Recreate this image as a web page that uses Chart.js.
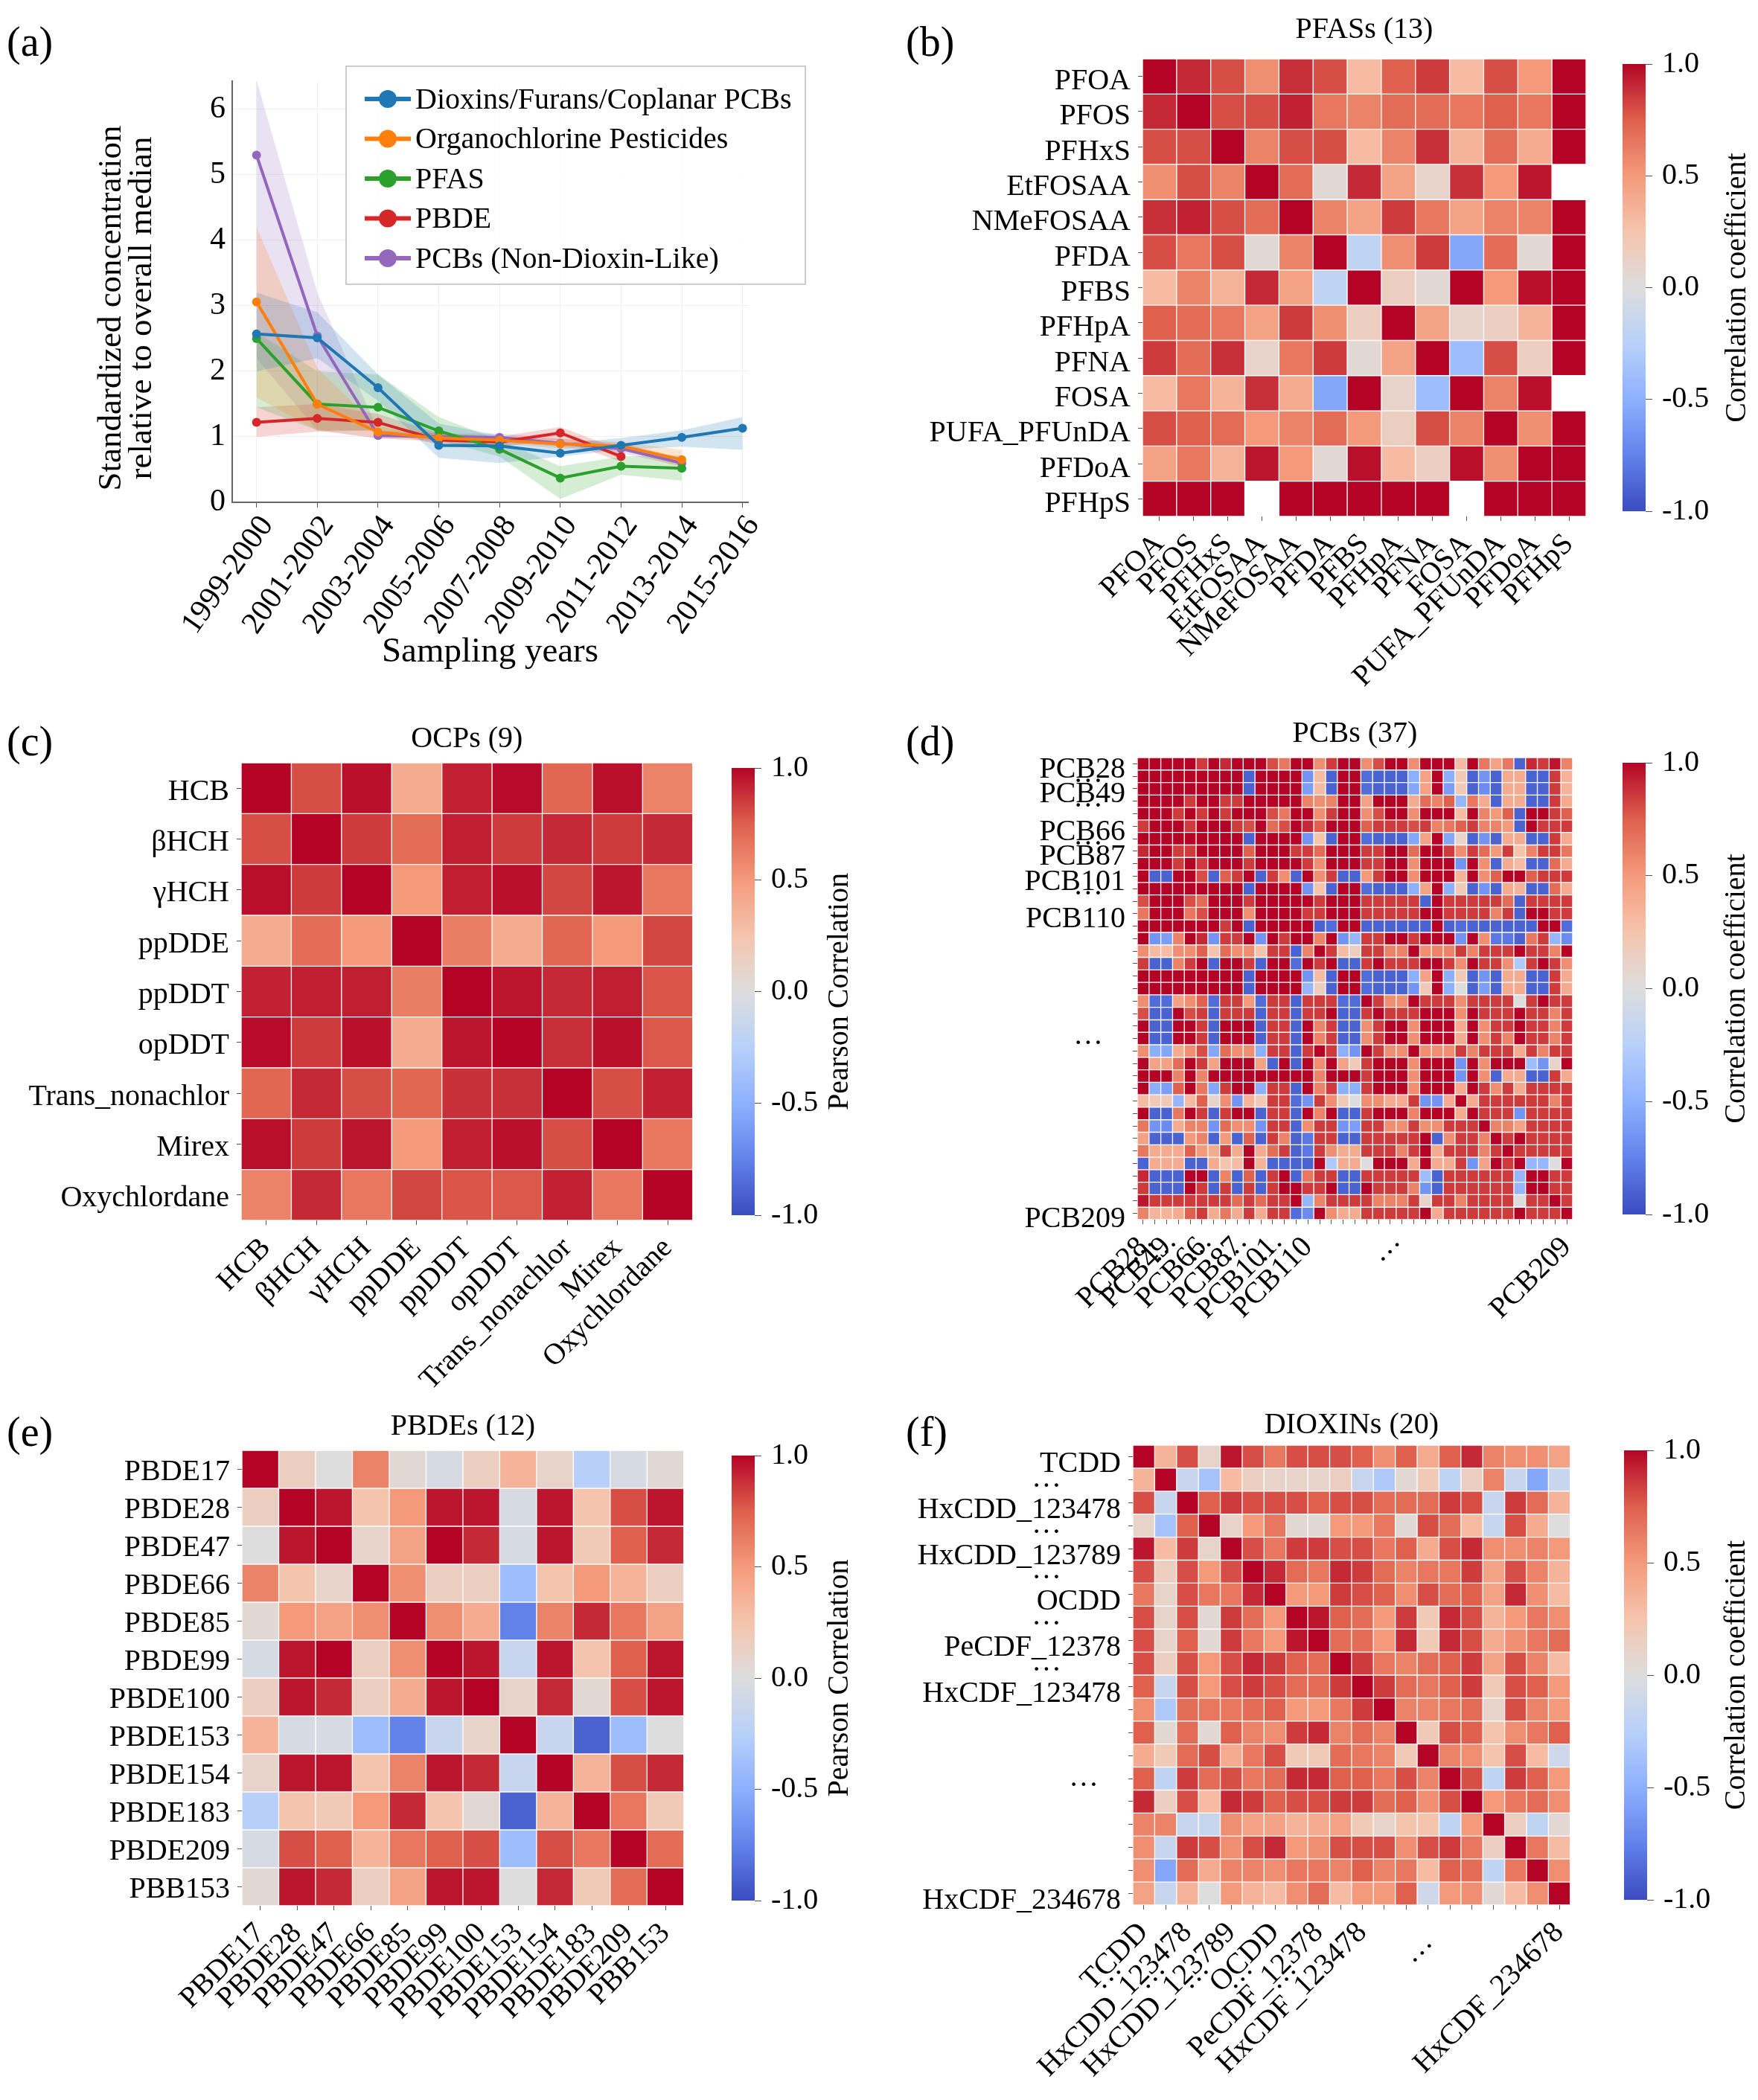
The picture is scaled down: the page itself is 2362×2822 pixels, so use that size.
<!DOCTYPE html>
<html><head><meta charset="utf-8">
<script src="https://cdn.jsdelivr.net/npm/chart.js@4.4.1/dist/chart.umd.min.js"></script>
<style>
html,body{margin:0;padding:0;background:#fff;}
body{width:2362px;height:2822px;position:relative;overflow:hidden;font-family:"Liberation Serif",serif;}
canvas{position:absolute;}
.plabel{position:absolute;font-size:56px;line-height:1;color:#000;font-family:"Liberation Serif",serif;}
</style></head><body>
<div class="plabel" style="left:9px;top:28px">(a)</div>
<div class="plabel" style="left:1217px;top:28px">(b)</div>
<div class="plabel" style="left:9px;top:968px">(c)</div>
<div class="plabel" style="left:1217px;top:968px">(d)</div>
<div class="plabel" style="left:9px;top:1896px">(e)</div>
<div class="plabel" style="left:1217px;top:1896px">(f)</div>
<canvas id="cA"></canvas>
<canvas id="cB"></canvas><canvas id="cbB"></canvas>
<canvas id="cC"></canvas><canvas id="cbC"></canvas>
<canvas id="cD"></canvas><canvas id="cbD"></canvas>
<canvas id="cE"></canvas><canvas id="cbE"></canvas>
<canvas id="cF"></canvas><canvas id="cbF"></canvas>
<script>
// ---------------- DATA ----------------
const yearLabels = ['1999-2000','2001-2002','2003-2004','2005-2006','2007-2008','2009-2010','2011-2012','2013-2014','2015-2016'];
const seriesNames = ['Dioxins/Furans/Coplanar PCBs','Organochlorine Pesticides','PFAS','PBDE','PCBs (Non-Dioxin-Like)'];
const seriesColors = ['#1f77b4','#ff7f0e','#2ca02c','#d62728','#9467bd'];
const yTitleLines = ['Standardized concentration','relative to overall median'];
const dioxinMedian = [2.57,2.51,1.75,0.87,0.86,0.75,0.87,0.99,1.13];
const dioxinLower  = [2.0,2.2,1.55,0.68,0.6,0.7,0.8,0.85,0.8];
const dioxinUpper  = [3.2,2.9,1.95,1.2,1.02,0.9,0.98,1.1,1.3];
const ocpMedian = [3.06,1.5,1.07,0.98,0.95,0.89,0.86,0.65,null];
const ocpLower  = [1.6,1.1,0.98,0.92,0.9,0.82,0.8,0.53,null];
const ocpUpper  = [4.2,2.05,1.15,1.05,1.0,0.97,0.92,0.8,null];
const pfasMedian = [2.5,1.5,1.45,1.09,0.81,0.37,0.55,0.52,null];
const pfasLower  = [1.45,1.1,1.1,0.95,0.7,0.05,0.42,0.33,null];
const pfasUpper  = [2.6,2.0,1.95,1.3,0.95,0.55,0.7,0.72,null];
const pbdeMedian = [1.22,1.28,1.22,0.95,0.92,1.06,0.7,null,null];
const pbdeLower  = [1.0,1.08,1.1,0.88,0.85,0.95,0.62,null,null];
const pbdeUpper  = [1.45,1.5,1.35,1.05,1.0,1.15,0.8,null,null];
const ndlPcbMedian = [5.3,2.54,1.02,1.0,0.99,0.9,0.82,0.6,null];
const ndlPcbLower  = [2.2,1.1,0.97,0.95,0.92,0.85,0.75,0.55,null];
const ndlPcbUpper  = [6.45,3.2,1.1,1.05,1.05,0.97,0.9,0.68,null];

const pfasLabels = ['PFOA','PFOS','PFHxS','EtFOSAA','NMeFOSAA','PFDA','PFBS','PFHpA','PFNA','FOSA','PUFA_PFUnDA','PFDoA','PFHpS'];
const pfasMatrix = [
[1,.9,.8,.55,.88,.8,.3,.75,.85,.3,.8,.5,1],
[.9,1,.8,.8,.92,.65,.6,.7,.7,.65,.75,.65,1],
[.8,.8,1,.6,.8,.8,.3,.6,.88,.35,.7,.4,1],
[.55,.8,.6,1,.7,.05,.9,.45,.1,.88,.5,.95,null],
[.88,.92,.8,.7,1,.6,.45,.85,.65,.45,.6,.6,1],
[.8,.65,.8,.05,.6,1,-.2,.55,.85,-.55,.7,.05,1],
[.3,.6,.35,.9,.45,-.2,1,.15,.05,1,.5,.97,1],
[.75,.7,.65,.45,.85,.55,.15,1,.45,.1,.15,.35,1],
[.85,.7,.88,.1,.65,.85,.05,.45,1,-.4,.8,.15,1],
[.3,.65,.35,.88,.4,-.55,1,.1,-.4,1,.6,.97,null],
[.8,.75,.7,.5,.6,.7,.5,.15,.8,.6,1,.55,1],
[.45,.65,.35,.95,.5,.05,.97,.3,.15,.97,.55,1,1],
[1,1,1,null,1,1,1,1,1,null,1,1,1]
];

const ocpLabels = ['HCB','βHCH','γHCH','ppDDE','ppDDT','opDDT','Trans_nonachlor','Mirex','Oxychlordane'];
const ocpMatrix = [
[1,.8,.97,.4,.92,.98,.72,.97,.6],
[.8,1,.85,.7,.93,.85,.9,.85,.9],
[.97,.85,1,.5,.93,.97,.82,.95,.65],
[.4,.7,.5,1,.62,.4,.72,.5,.82],
[.92,.93,.93,.62,1,.95,.9,.93,.78],
[.98,.85,.97,.4,.95,1,.88,.97,.77],
[.72,.9,.8,.72,.88,.88,1,.8,.92],
[.97,.85,.95,.5,.93,.97,.8,1,.65],
[.6,.9,.65,.82,.78,.77,.92,.65,1]
];

const pcbRowLabels = ['PCB28','···\u00a0\u00a0\u00a0','PCB49','···\u00a0\u00a0\u00a0','','PCB66','···\u00a0\u00a0\u00a0','PCB87','','PCB101','···\u00a0\u00a0\u00a0','','PCB110',
 '','','','','','','','','','···\u00a0\u00a0\u00a0','','','','','','','','','','','','','','PCB209'];
const pcbColLabels = ['PCB28','···','PCB49','···','','PCB66','···','','PCB87','···','','PCB101','···','','PCB110',
 '','','','','','','','···','','','','','','','','','','','','','','PCB209'];
// upper triangle of the PCB correlation matrix, row i holds columns i..36
const pcbUpper = [
[1,1,1,1,1,.85,1,.9,1,1,1,.8,.65,1,1,.55,.85,1,1,.55,.8,1,1,.55,1,1,1,.3,1,.65,.45,.65,-.9,.9,.85,.95,.6],
[1,1,1,1,1,1,1,1,-.9,1,1,1,1,-.65,.3,-.9,1,1,-.85,-.9,-.9,-.9,-.5,.45,1,-.5,.2,-.9,-.65,-.9,.4,.4,-.9,-.9,.85,.35],
[1,1,1,1,1,1,1,-.9,1,1,1,1,-.6,.3,-.9,1,1,-.85,-.9,-.9,-.9,-.55,.45,1,-.6,.2,-.9,-.7,-.9,.4,.4,-.9,-.9,.85,.35],
[1,.85,1,1,.85,.85,1,1,1,1,1,.6,.55,.6,1,1,.45,1,1,1,.4,.7,.6,.75,-.45,.65,.4,-.9,.4,.4,-.9,-.9,.85,.4],
[1,.85,1,.85,1,1,1,.8,.65,1,1,.55,.85,1,1,.55,.8,1,1,.55,1,1,1,.3,1,.6,.5,.75,-.9,1,1,.85,.75],
[1,1,1,.85,.8,1,.7,.8,1,.9,.75,1,1,1,.75,.85,.85,.85,.8,.85,.6,.65,.75,.85,.6,.6,.5,-.9,1,.85,.85,.85],
[1,1,1,-.9,1,1,1,1,-.65,.25,-.9,1,1,-.85,-.9,-.9,-.9,-.55,.45,1,-.55,.1,-.9,-.65,-.9,.4,.4,-.9,-.9,.85,.4],
[1,1,.75,1,1,1,.85,.85,.7,1,1,1,.85,.85,1,1,.7,1,1,.85,.55,.85,.7,.5,.85,.25,.6,.85,.85,.65],
[1,.85,1,1,1,1,.85,.55,1,1,1,.85,.85,1,1,.55,1,1,1,-.65,1,.55,-.9,.4,.3,-.9,-.9,.7,.4],
[1,-.9,.85,.55,-.9,1,.55,.85,-.9,-.9,.5,.85,1,1,.55,1,1,1,.35,1,.55,.75,1,1,.75,.85,.85,.85],
[1,1,1,1,-.65,.25,-.9,1,1,-.85,-.9,-.9,-.9,-.5,.45,1,-.5,.2,-.9,-.65,-.9,.4,.35,-.9,-.9,.7,.4],
[1,1,1,1,.85,1,1,1,.85,.85,.85,.85,.85,-.9,1,.85,.85,.85,.85,.85,.7,-.9,.85,.85,.85,.85],
[1,1,.85,.85,1,1,1,.85,.85,.85,.85,.85,1,1,.85,.85,.85,.85,.6,.85,-.9,1,1,.85,.85],
[1,1,-.9,-.85,1,1,-.9,-.9,-.9,-.9,-.9,-.9,1,-.9,-.85,-.9,-.9,-.9,-.9,-.9,-.9,1,1,-.85],
[1,.6,1,-.65,-.45,.85,.85,1,1,.85,1,1,1,-.65,1,.55,-.8,-.8,-.9,.65,.85,-.45,-.7],
[1,.85,.3,.15,.85,.85,.6,.6,1,.55,.6,.6,.85,.6,.85,.85,.85,1,.85,.85,.6,1],
[1,-.9,-.9,.85,1,.85,.85,.85,1,1,.85,.55,1,.85,.85,.55,-.3,.85,1,.85,.55],
[1,1,-.85,-.9,-.9,-.9,-.5,.45,1,-.5,.2,-.9,-.65,-.9,.4,.4,-.9,-.9,.85,.4],
[1,-.85,-.9,-.9,-.9,-.65,.2,1,-.5,0,-.9,-.6,-.9,.4,.4,-.9,-.9,.85,.4],
[1,.85,.55,.55,1,.85,.85,.85,.55,.85,.85,.85,.85,0,.85,1,.85,.85],
[1,.85,.85,.85,1,1,1,.55,1,.85,.85,.85,1,.85,.85,.6,.85],
[1,1,.55,1,1,1,.4,1,.55,.85,.85,1,.85,.85,.6,.85],
[1,.55,1,1,1,.4,1,.55,.85,.6,1,.85,.85,.6,.85],
[1,.55,.55,.55,.85,.6,.85,.85,.85,.4,.85,.6,.85,.85],
[1,1,1,-.65,1,.55,1,1,1,-.4,-.65,.1,1],
[1,1,-.65,1,.55,-.9,.4,.4,-.9,-.9,.85,.4],
[1,.4,1,.85,.55,.85,.4,.85,.85,.85,.85],
[1,.4,.85,.85,.85,.85,.85,.85,.6,.85],
[1,.85,.85,.85,-.65,.85,.85,.85,.85],
[1,.6,.6,.45,.85,.85,.85,.85],
[1,.85,1,.85,.85,.85,.85],
[1,.85,.85,.85,.85,.85],
[1,-.45,-.45,0,1],
[1,1,.85,.85],
[1,.85,.85],
[1,.85],
[1]
];

const pbdeLabels = ['PBDE17','PBDE28','PBDE47','PBDE66','PBDE85','PBDE99','PBDE100','PBDE153','PBDE154','PBDE183','PBDE209','PBB153'];
const pbdeMatrix = [
[1,.15,0,.6,.05,-.05,.15,.35,.1,-.25,-.05,.05],
[.15,1,.95,.25,.5,.95,.95,-.05,.95,.25,.8,.95],
[0,.95,1,.1,.45,1,.9,-.05,.95,.2,.75,.9],
[.6,.25,.1,1,.55,.15,.15,-.4,.25,.5,.35,.15],
[.05,.5,.45,.55,1,.55,.4,-.75,.6,.9,.65,.45],
[-.05,.95,1,.15,.55,1,.95,-.15,.95,.25,.75,.95],
[.15,.95,.9,.15,.4,.95,1,.1,.9,.05,.8,.95],
[.35,-.05,-.05,-.4,-.75,-.15,.1,1,-.15,-.9,-.4,0],
[.1,.95,.95,.25,.6,.95,.9,-.15,1,.35,.8,.9],
[-.25,.25,.2,.5,.9,.25,.05,-.9,.35,1,.65,.2],
[-.05,.8,.75,.35,.65,.75,.8,-.4,.8,.65,1,.7],
[.05,.95,.9,.15,.45,.95,.95,0,.9,.2,.7,1]
];

const dioxinLabels = ['TCDD','···\u00a0\u00a0\u00a0\u00a0\u00a0\u00a0\u00a0\u00a0','HxCDD_123478','···\u00a0\u00a0\u00a0\u00a0\u00a0\u00a0\u00a0\u00a0','HxCDD_123789',
 '···\u00a0\u00a0\u00a0\u00a0\u00a0\u00a0\u00a0\u00a0','OCDD','···\u00a0\u00a0\u00a0\u00a0\u00a0\u00a0\u00a0\u00a0',
 'PeCDF_12378','···\u00a0\u00a0\u00a0\u00a0\u00a0\u00a0\u00a0\u00a0','HxCDF_123478','','','','···\u00a0\u00a0\u00a0','','','','','HxCDF_234678'];
const dioxinMatrix = [
[1,.35,.8,.1,.95,.8,.65,.8,.8,.8,.75,.55,.75,.4,.75,.9,.6,.55,.55,.45],
[.35,1,-.15,-.35,.3,.15,.1,.1,.1,.15,-.15,-.3,.05,.2,-.2,.15,.6,-.15,-.55,-.15],
[.8,-.15,1,.75,.85,.8,.8,.8,.75,.8,.8,.7,.7,.7,.85,.8,-.15,.85,.7,.35],
[.1,-.35,.75,1,.1,.5,.65,.05,.05,.5,.5,.65,.05,.8,.7,.3,-.15,.8,.4,0],
[.95,.3,.85,.1,1,.8,.65,.85,.85,.8,.8,.65,.75,.4,.8,.9,.55,.55,.6,.5],
[.8,.15,.8,.5,.8,1,.9,.7,.65,.9,.85,.7,.6,.65,.65,.85,.45,.8,.6,.35],
[.65,.1,.8,.65,.65,.9,1,.5,.5,.85,.8,.75,.55,.8,.7,.75,.45,.9,.55,.3],
[.8,.1,.8,.05,.85,.7,.5,1,.95,.75,.7,.5,.85,.2,.9,.8,.35,.5,.65,.55],
[.8,.1,.75,.05,.85,.65,.5,.95,1,.7,.7,.5,.9,.2,.9,.8,.4,.55,.65,.7],
[.8,.15,.8,.5,.8,.9,.85,.75,.7,1,.85,.65,.6,.7,.75,.85,.45,.8,.6,.3],
[.75,-.15,.8,.5,.8,.85,.8,.7,.7,.85,1,.85,.7,.65,.75,.85,.2,.8,.75,.5],
[.55,-.3,.7,.65,.65,.7,.75,.5,.5,.65,.85,1,.6,.6,.65,.7,.1,.8,.6,.5],
[.75,.05,.7,.05,.75,.6,.55,.85,.9,.6,.7,.6,1,.2,.8,.75,.25,.55,.65,.75],
[.4,.2,.7,.8,.4,.65,.8,.2,.2,.7,.65,.6,.2,1,.6,.55,.25,.8,.3,-.1],
[.75,-.2,.85,.7,.8,.65,.7,.9,.9,.75,.75,.65,.8,.6,1,.8,-.2,.85,.75,.5],
[.9,.15,.8,.3,.9,.85,.75,.8,.8,.85,.85,.7,.75,.55,.8,1,.5,.65,.7,.55],
[.6,.6,-.15,-.15,.55,.45,.45,.35,.4,.45,.2,.1,.25,.25,-.2,.5,1,.15,-.2,.05],
[.55,-.15,.85,.8,.55,.8,.9,.5,.55,.8,.8,.8,.55,.8,.85,.65,.15,1,.65,.3],
[.55,-.55,.7,.4,.6,.6,.55,.65,.65,.6,.75,.6,.65,.3,.75,.7,-.2,.65,1,.55],
[.45,-.15,.35,0,.5,.35,.3,.55,.7,.3,.5,.5,.75,-.1,.5,.55,.05,.3,.55,1]
];

// ---------------- HELPERS ----------------
const FONT = '"Liberation Serif", "Times New Roman", serif';
Chart.defaults.font.family = FONT;
Chart.defaults.color = '#000';

const cwStops = [[59,76,192],[98,130,234],[141,176,254],[184,208,249],[221,221,221],[245,196,173],[244,154,123],[222,96,77],[180,4,38]];
function coolwarm(v) {
  const t = Math.max(0, Math.min(1, (v + 1) / 2)) * 8;
  const i = Math.min(7, Math.floor(t)); const f = t - i;
  const a = cwStops[i], b = cwStops[i + 1];
  const c = a.map((x, k) => Math.round(x + (b[k] - x) * f));
  return 'rgb(' + c.join(',') + ')';
}
function rgba(hex, a) {
  const n = parseInt(hex.slice(1), 16);
  return 'rgba(' + (n >> 16 & 255) + ',' + (n >> 8 & 255) + ',' + (n & 255) + ',' + a + ')';
}
function place(id, left, top, w, h) {
  const c = document.getElementById(id);
  c.width = w; c.height = h;
  c.style.left = left + 'px'; c.style.top = top + 'px';
  c.style.width = w + 'px'; c.style.height = h + 'px';
  return c;
}

// ---------------- PANEL (a) ----------------
(function () {
  const el = place('cA', 0, 0, 1100, 910);
  const toXY = arr => arr.map((v, i) => ({x: i, y: v}));
  const medians = [dioxinMedian, ocpMedian, pfasMedian, pbdeMedian, ndlPcbMedian];
  const lowers = [dioxinLower, ocpLower, pfasLower, pbdeLower, ndlPcbLower];
  const uppers = [dioxinUpper, ocpUpper, pfasUpper, pbdeUpper, ndlPcbUpper];
  const datasets = [];
  medians.forEach((m, s) => datasets.push({
    label: seriesNames[s], data: toXY(m), borderColor: seriesColors[s], backgroundColor: seriesColors[s],
    borderWidth: 4, pointRadius: 6, pointBorderWidth: 0, pointBackgroundColor: seriesColors[s], fill: false, tension: 0
  }));
  uppers.forEach((u, s) => {
    datasets.push({label: 'u' + s, data: toXY(u), borderWidth: 0, pointRadius: 0, fill: false, borderColor: 'rgba(0,0,0,0)'});
    datasets.push({label: 'l' + s, data: toXY(lowers[s]), borderWidth: 0, pointRadius: 0, fill: '-1',
      borderColor: 'rgba(0,0,0,0)', backgroundColor: rgba(seriesColors[s], 0.2)});
  });
  const legendBox = {
    id: 'legendBox',
    afterDraw(chart) {
      const ctx = chart.ctx;
      ctx.save();
      const bx = 465, by = 89, bw = 617, bh = 293;
      ctx.fillStyle = 'rgba(255,255,255,0.85)';
      ctx.fillRect(bx, by, bw, bh);
      ctx.strokeStyle = '#cccccc'; ctx.lineWidth = 2;
      ctx.strokeRect(bx, by, bw, bh);
      ctx.font = '40px ' + FONT; ctx.textBaseline = 'middle'; ctx.textAlign = 'left';
      seriesNames.forEach((name, i) => {
        const y = by + 44 + i * 53.5;
        ctx.strokeStyle = seriesColors[i]; ctx.lineWidth = 6;
        ctx.beginPath(); ctx.moveTo(490, y); ctx.lineTo(552, y); ctx.stroke();
        ctx.fillStyle = seriesColors[i];
        ctx.beginPath(); ctx.arc(521, y, 12, 0, Math.PI * 2); ctx.fill();
        ctx.fillStyle = '#000';
        ctx.fillText(name, 558, y + 2);
      });
      ctx.restore();
    }
  };
  const yTitle = {
    id: 'yTitle',
    afterDraw(chart) {
      const ctx = chart.ctx;
      ctx.save();
      ctx.font = '45px ' + FONT; ctx.fillStyle = '#000';
      ctx.textAlign = 'center'; ctx.textBaseline = 'middle';
      yTitleLines.forEach((t, i) => {
        ctx.save();
        ctx.translate(150 + i * 41, 414);
        ctx.rotate(-Math.PI / 2);
        ctx.fillText(t, 0, 0);
        ctx.restore();
      });
      ctx.restore();
    }
  };
  new Chart(el, {
    type: 'line',
    data: {datasets},
    options: {
      responsive: false, animation: false, devicePixelRatio: 1,
      layout: {padding: {top: 109, right: 95, left: 0, bottom: 0}},
      plugins: {legend: {display: false}, tooltip: {enabled: false}, filler: {drawTime: 'beforeDatasetsDraw'}},
      scales: {
        x: {
          type: 'linear', min: -0.4, max: 8.09,
          afterBuildTicks: s => { s.ticks = yearLabels.map((_, i) => ({value: i})); },
          ticks: {callback: (v, i) => yearLabels[i], autoSkip: false, minRotation: 55, maxRotation: 55, font: {size: 42}, padding: 2, labelOffset: 14},
          grid: {color: '#efefef', tickColor: '#555', tickLength: 7},
          border: {display: true, color: '#666', width: 2},
          title: {display: true, text: 'Sampling years', font: {size: 47}, padding: {top: 0, bottom: 5}},
          afterFit: s => { s.height = 235; }
        },
        y: {
          min: 0, max: 6.43,
          ticks: {stepSize: 1, includeBounds: false, font: {size: 42}, padding: 9},
          grid: {color: '#efefef', drawTicks: false},
          border: {display: true, color: '#666', width: 2},
          afterFit: s => { s.width = 312; }
        }
      }
    },
    plugins: [legendBox, yTitle]
  });
})();

// ---------------- HEATMAPS ----------------
function drawHeatmap(cfg) {
  const {id, labels, matrix, x0, x1, y0, y1, title, gap, yShift} = cfg;
  const colLabels = cfg.colLabels || labels;
  const yW = 300, xH = 300;
  const n = labels.length;
  const titleBox = 16 + 48 + gap;
  const left = x0 - yW, top = y0 - titleBox;
  const el = place(id, left, top, x1 - left, titleBox + (y1 - y0) + xH);
  const datasets = labels.map((_, j) => ({
    data: labels.map(() => 1),
    backgroundColor: ctx => {
      const v = matrix[ctx.dataIndex][j];
      return (v === null || v === undefined) ? 'rgba(0,0,0,0)' : coolwarm(v);
    },
    borderColor: '#ffffff', borderWidth: 1, borderSkipped: false,
    barPercentage: 1, categoryPercentage: 1
  }));
  const titlePlugin = {
    id: 'panelTitle',
    afterDraw(chart) {
      const {ctx, chartArea} = chart;
      ctx.save();
      ctx.font = '40px ' + FONT; ctx.fillStyle = '#000';
      ctx.textAlign = 'center'; ctx.textBaseline = 'middle';
      ctx.fillText(title, (chartArea.left + chartArea.right) / 2, chartArea.top - gap - 24);
      ctx.restore();
    }
  };
  new Chart(el, {
    type: 'bar',
    data: {labels: labels, datasets},
    options: {
      indexAxis: 'y', responsive: false, animation: false, devicePixelRatio: 1,
      layout: {padding: {top: titleBox, left: 0, right: 0, bottom: 0}},
      plugins: {legend: {display: false}, tooltip: {enabled: false}},
      scales: {
        x: {
          type: 'linear', stacked: true, min: 0, max: n, offset: false,
          afterBuildTicks: s => { s.ticks = colLabels.map((_, j) => ({value: j + 0.5})); },
          ticks: {callback: (v, i) => colLabels[i], autoSkip: false, minRotation: 45, maxRotation: 45, font: {size: 40}, padding: 8},
          grid: {drawOnChartArea: false, tickLength: 6, tickColor: '#555'},
          border: {display: false},
          afterFit: s => { s.height = xH; }
        },
        y: {
          type: 'category', stacked: true, offset: true,
          ticks: {autoSkip: false, font: {size: 40}, padding: 10, labelOffset: yShift},
          grid: {drawOnChartArea: false, offset: false, tickLength: 6, tickColor: '#555'},
          border: {display: false},
          afterFit: s => { s.width = yW; }
        }
      }
    },
    plugins: [titlePlugin]
  });
}

function drawColorbar(cfg) {
  const {id, x0, y0, y1, label, labelOffset} = cfg;
  const barW = 31, padV = 30, width = 182;
  const el = place(id, x0, y0 - padV, width, (y1 - y0) + 2 * padV);
  const labelPlugin = {
    id: 'cbLabel',
    afterDraw(chart) {
      const {ctx, chartArea} = chart;
      ctx.save();
      ctx.translate(chartArea.left + labelOffset, (chartArea.top + chartArea.bottom) / 2);
      ctx.rotate(-Math.PI / 2);
      ctx.font = '40px ' + FONT; ctx.fillStyle = '#000';
      ctx.textAlign = 'center'; ctx.textBaseline = 'middle';
      ctx.fillText(label, 0, 0);
      ctx.restore();
    }
  };
  new Chart(el, {
    type: 'bar',
    data: {labels: [''], datasets: [{
      data: [[-1, 1]], borderWidth: 0, barPercentage: 1, categoryPercentage: 1,
      backgroundColor: ctx => {
        const area = ctx.chart.chartArea;
        if (!area) return 'rgba(0,0,0,0)';
        const g = ctx.chart.ctx.createLinearGradient(0, area.bottom, 0, area.top);
        cwStops.forEach((c, k) => g.addColorStop(k / 8, 'rgb(' + c.join(',') + ')'));
        return g;
      }
    }]},
    options: {
      responsive: false, animation: false, devicePixelRatio: 1,
      layout: {padding: {top: padV, bottom: padV, left: 0, right: 0}},
      plugins: {legend: {display: false}, tooltip: {enabled: false}},
      scales: {
        x: {display: false},
        y: {
          position: 'right', min: -1, max: 1,
          ticks: {stepSize: 0.5, callback: v => v.toFixed(1), font: {size: 40}, padding: 13},
          grid: {drawOnChartArea: false, tickLength: 9, tickColor: '#555'},
          border: {display: false},
          afterFit: s => { s.width = width - barW; }
        }
      }
    },
    plugins: [labelPlugin]
  });
}

// full PCB table for the library, built from the upper-triangle rows
const pcbMatrix = pcbRowLabels.map((_, i) => pcbRowLabels.map((_, j) => i <= j ? pcbUpper[i][j - i] : pcbUpper[j][i - j]));

drawHeatmap({id: 'cB', labels: pfasLabels, matrix: pfasMatrix, x0: 1535, x1: 2150, y0: 79, y1: 694, title: 'PFASs (13)', gap: 15, yShift: 7});
drawColorbar({id: 'cbB', x0: 2180, y0: 79, y1: 694, label: 'Correlation coefficient', labelOffset: 154});

drawHeatmap({id: 'cC', labels: ocpLabels, matrix: ocpMatrix, x0: 324, x1: 939, y0: 1025, y1: 1640, title: 'OCPs (9)', gap: 8, yShift: 5});
drawColorbar({id: 'cbC', x0: 983, y0: 1025, y1: 1640, label: 'Pearson Correlation', labelOffset: 145});

drawHeatmap({id: 'cD', labels: pcbRowLabels, colLabels: pcbColLabels, matrix: pcbMatrix, x0: 1528, x1: 2147, y0: 1018, y1: 1639, title: 'PCBs (37)', gap: 8, yShift: 8});
drawColorbar({id: 'cbD', x0: 2180, y0: 1018, y1: 1639, label: 'Correlation coefficient', labelOffset: 153});

drawHeatmap({id: 'cE', labels: pbdeLabels, matrix: pbdeMatrix, x0: 325, x1: 936, y0: 1949, y1: 2561, title: 'PBDEs (12)', gap: 8, yShift: 4});
drawColorbar({id: 'cbE', x0: 983, y0: 1949, y1: 2561, label: 'Pearson Correlation', labelOffset: 145});

drawHeatmap({id: 'cF', labels: dioxinLabels, matrix: dioxinMatrix, x0: 1522, x1: 2137, y0: 1942, y1: 2560, title: 'DIOXINs (20)', gap: 3, yShift: 10});
drawColorbar({id: 'cbF', x0: 2182, y0: 1942, y1: 2560, label: 'Correlation coefficient', labelOffset: 151});
</script>
</body></html>
